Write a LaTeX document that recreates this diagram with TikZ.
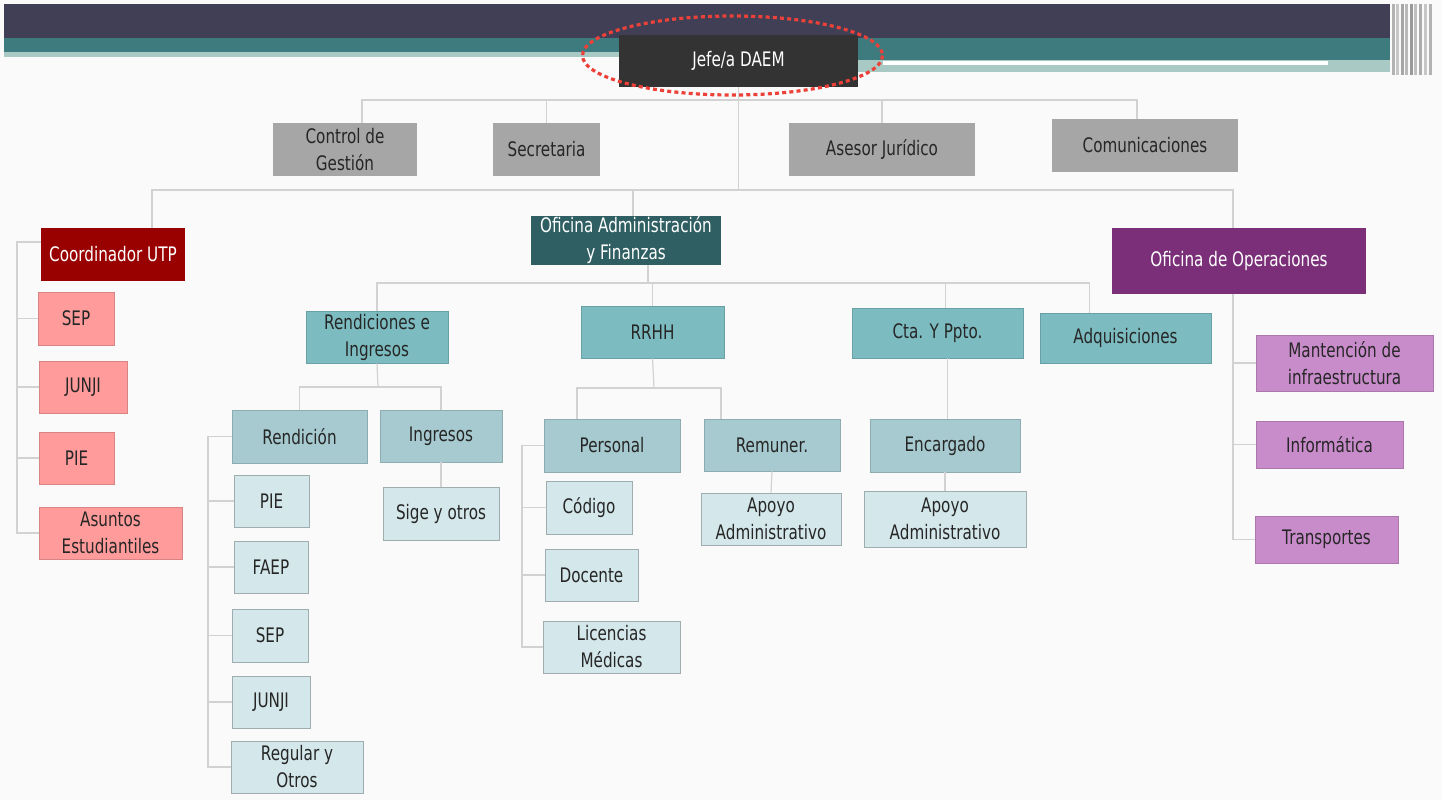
\documentclass[tikz,border=0pt]{standalone}
\usepackage{fontspec}
\setmainfont{DejaVu Sans}[FakeStretch=0.76]
\usepackage{tikz}

\definecolor{headdark}{HTML}{403F56}
\definecolor{headteal}{HTML}{3D7B7E}
\definecolor{headlight}{HTML}{A9C9C5}
\definecolor{boxgray}{HTML}{A6A6A6}
\definecolor{boxred}{HTML}{990000}
\definecolor{boxpink}{HTML}{FF9B9B}
\definecolor{boxdteal}{HTML}{2F5F62}
\definecolor{boxteal}{HTML}{7CBCC0}
\definecolor{boxmteal}{HTML}{A6CACF}
\definecolor{boxlteal}{HTML}{D4E7EA}
\definecolor{boxpurple}{HTML}{7A2F78}
\definecolor{boxlpurple}{HTML}{C98CCB}
\definecolor{linkgray}{HTML}{D2D2D2}
\definecolor{ringred}{HTML}{EC4138}

\tikzset{
	unit/.style={inner sep=0pt, align=center, text=black!85, font=\fontsize{10}{13.5}\selectfont},
	gray box/.style={unit, fill=boxgray},
	red box/.style={unit, fill=boxred, text=white},
	pink box/.style={unit, fill=boxpink, draw=boxpink!85!black, line width=.3pt},
	dteal box/.style={unit, fill=boxdteal, text=white},
	teal box/.style={unit, fill=boxteal, draw=boxteal!85!black, line width=.3pt},
	mteal box/.style={unit, fill=boxmteal, draw=boxmteal!85!black, line width=.3pt},
	lteal box/.style={unit, fill=boxlteal, draw=boxlteal!75!black, line width=.3pt},
	purple box/.style={unit, fill=boxpurple, text=white},
	lpurple box/.style={unit, fill=boxlpurple, draw=boxlpurple!85!black, line width=.3pt},
	link/.style={draw=linkgray, line width=.6pt}
}

\begin{document}
\begin{tikzpicture}[x=0.5pt, y=-0.5pt]
\useasboundingbox (0,0) rectangle (1442,800);
\fill[white!98!black] (0,0) rectangle (1442,800);

\fill[headdark] (4,4) rectangle (1390,38);
\fill[headteal] (4,38) rectangle (1390,52);
\fill[headlight] (4,52) rectangle (619,57);
\fill[headteal] (858,52) rectangle (1390,60);
\fill[headlight] (858,60) rectangle (1390,72);
\fill[white] (883,61) rectangle (1328,65);
\foreach \x/\c in {1392/60,1396/45,1401/70,1405/55,1410/80,1414/50,1419/65,1424/45,1429/60}
{
	\fill[gray!\c] (\x,4) rectangle (\x+3,75);
}

\node[unit, fill=black!80, text=white, minimum width=119.5pt, minimum height=26pt](jefe) at (738.5,61) {Jefe/a DAEM};
\draw[ringred, line width=1.6pt, dash pattern=on 2pt off 1.6pt] (732.5,55.5) ellipse [x radius=150, y radius=39.5];

\node[gray box, minimum width=72pt, minimum height=26.5pt](cg) at (345,149.5) {Control de\\Gestión};
\node[gray box, minimum width=53.5pt, minimum height=26.5pt](sec) at (546.5,149.5) {Secretaria};
\node[gray box, minimum width=93pt, minimum height=26.5pt](aj) at (882,149.5) {Asesor Jurídico};
\node[gray box, minimum width=93pt, minimum height=26.5pt](com) at (1145,145.5) {Comunicaciones};

\node[red box, minimum width=72pt, minimum height=26.5pt](utp) at (113,254.5) {Coordinador UTP};
\node[dteal box, minimum width=95pt, minimum height=24.5pt](oaf) at (626,240.5) {Oficina Administración\\y Finanzas};
\node[purple box, minimum width=127pt, minimum height=33pt](ope) at (1239,261) {Oficina de Operaciones};

\node[pink box, minimum width=38pt, minimum height=26.5pt](sep1) at (76,318.5) {SEP};
\node[pink box, minimum width=44pt, minimum height=26pt](jun1) at (83,387) {JUNJI};
\node[pink box, minimum width=37.5pt, minimum height=26pt](pie1) at (76.5,458) {PIE};
\node[pink box, minimum width=71.5pt, minimum height=26pt](aes) at (110.5,533) {Asuntos\\Estudiantiles};

\node[teal box, minimum width=71pt, minimum height=26pt](rei) at (377,337) {Rendiciones e\\Ingresos};
\node[teal box, minimum width=71.5pt, minimum height=26pt](rrhh) at (652.5,332) {RRHH};
\node[teal box, minimum width=85.5pt, minimum height=25pt](cta) at (937.5,333) {Cta. Y Ppto.};
\node[teal box, minimum width=85.5pt, minimum height=25pt](adq) at (1125.5,338) {Adquisiciones};

\node[mteal box, minimum width=67.5pt, minimum height=26.5pt](ren) at (299.5,436.5) {Rendición};
\node[mteal box, minimum width=61pt, minimum height=26pt](ing) at (441,436) {Ingresos};
\node[lteal box, minimum width=58pt, minimum height=26.5pt](sig) at (441,513.5) {Sige y otros};
\node[lteal box, minimum width=37.5pt, minimum height=26pt](pie2) at (271.5,501) {PIE};
\node[lteal box, minimum width=37pt, minimum height=26pt](fae) at (271,567) {FAEP};
\node[lteal box, minimum width=38pt, minimum height=26.5pt](sep2) at (270,635.5) {SEP};
\node[lteal box, minimum width=39pt, minimum height=26pt](jun2) at (271,702) {JUNJI};
\node[lteal box, minimum width=66pt, minimum height=26pt](reg) at (297,767) {Regular y\\Otros};

\node[mteal box, minimum width=68pt, minimum height=26.5pt](per) at (612,445.5) {Personal};
\node[mteal box, minimum width=68pt, minimum height=26pt](rem) at (772,445) {Remuner.};
\node[mteal box, minimum width=75pt, minimum height=26.5pt](enc) at (945,445.5) {Encargado};
\node[lteal box, minimum width=43pt, minimum height=26.5pt](cod) at (589,507.5) {Código};
\node[lteal box, minimum width=46.5pt, minimum height=26pt](doc) at (591.5,575) {Docente};
\node[lteal box, minimum width=68.5pt, minimum height=26pt](lic) at (611.5,647) {Licencias\\Médicas};
\node[lteal box, minimum width=70pt, minimum height=26pt](apo1) at (771,519) {Apoyo\\Administrativo};
\node[lteal box, minimum width=81pt, minimum height=28pt](apo2) at (945,519) {Apoyo\\Administrativo};

\node[lpurple box, minimum width=88.5pt, minimum height=28pt](man) at (1344.5,363) {Mantención de\\infraestructura};
\node[lpurple box, minimum width=73.5pt, minimum height=23.5pt](inf) at (1329.5,444.5) {Informática};
\node[lpurple box, minimum width=71.5pt, minimum height=23.5pt](tra) at (1326.5,539.5) {Transportes};

\coordinate (busA) at (740,100);
\coordinate (busB) at (740,190);
\coordinate (busC) at (648,283);
\coordinate (busD) at (378,387);
\coordinate (busE) at (654,388);
\coordinate (railU) at (17,242);
\coordinate (railR) at (208,0);
\coordinate (railP) at (522,0);
\coordinate (railO) at (1233,294);

\draw[link] (jefe.south) -- (jefe.south |- busB);
\draw[link] ([xshift=8.5pt]cg.north) -- ([xshift=8.5pt]cg.north |- busA) -| ([xshift=-4pt]com.north);
\draw[link] (sec.north) -- (sec.north |- busA);
\draw[link] (aj.north) -- (aj.north |- busA);

\draw[link] ([xshift=19.5pt]utp.north) -- ([xshift=19.5pt]utp.north |- busB) -| ([xshift=-3pt]ope.north);
\draw[link] ([xshift=3.5pt]oaf.north) -- ([xshift=3.5pt]oaf.north |- busB);

\draw[link] ([xshift=11pt]oaf.south) -- (busC);
\draw[link] (rei.north) -- (rei.north |- busC) -| ([xshift=-18pt]adq.north);
\draw[link] (rrhh.north) -- (rrhh.north |- busC);
\draw[link] ([xshift=4pt]cta.north) -- ([xshift=4pt]cta.north |- busC);

\draw[link] (rei.south) -- (busD);
\draw[link] (ren.north) -- (ren.north |- busD) -| (ing.north);
\draw[link] (ing.south) -- (sig.north);
\draw[link] (ren.west) -- (ren.west -| railR) |- (reg.west);
\foreach \n in {pie2,fae,sep2,jun2}
{
	\draw[link] (\n.west) -- (\n.west -| railR);
}

\draw[link] (rrhh.south) -- (busE);
\draw[link] ([xshift=-17.5pt]per.north) -- ([xshift=-17.5pt]per.north |- busE) -| ([xshift=-25.5pt]rem.north);
\draw[link] (rem.south) -- (apo1.north);
\draw[link] (per.west) -- (per.west -| railP) |- (lic.west);
\foreach \n in {cod,doc}
{
	\draw[link] (\n.west) -- (\n.west -| railP);
}

\draw[link] ([xshift=5pt]cta.south) -- ([xshift=5pt]cta.south |- enc.north);
\draw[link] (enc.south) -- (apo2.north);

\draw[link] (utp.west |- railU) -- (railU) |- (aes.west);
\foreach \n in {sep1,jun1,pie1}
{
	\draw[link] (\n.west) -- (\n.west -| railU);
}

\draw[link] (railO) |- (tra.west);
\foreach \n in {man,inf}
{
	\draw[link] (\n.west) -- (\n.west -| railO);
}
\end{tikzpicture}
\end{document}
